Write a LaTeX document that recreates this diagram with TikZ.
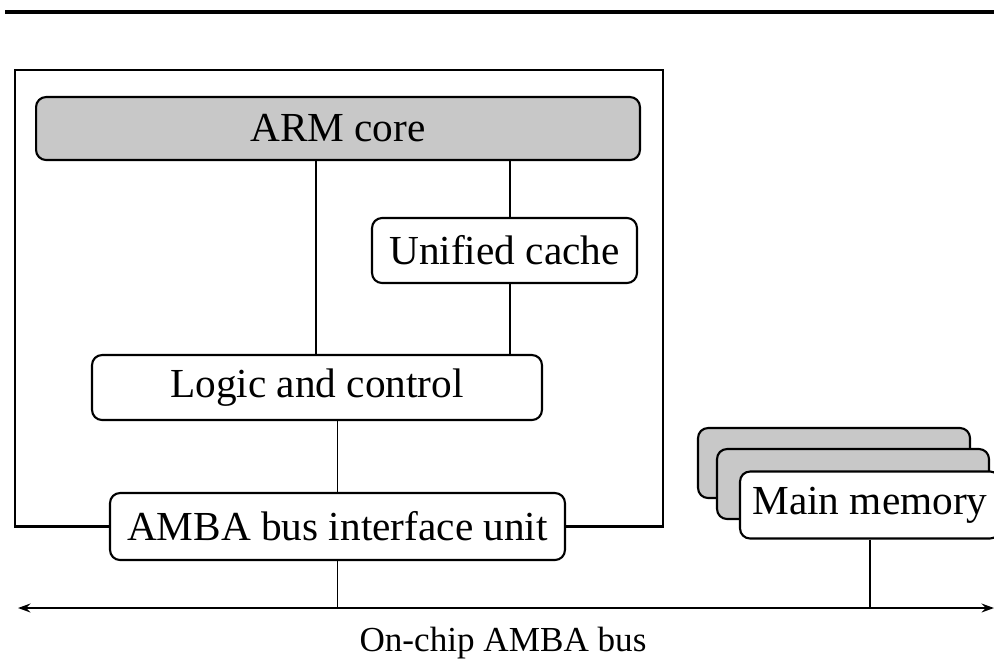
\documentclass[tikz,border=0pt]{standalone}
\usepackage{fontspec}
\setmainfont{Liberation Serif}
\usetikzlibrary{arrows.meta, positioning}
\definecolor{coregray}{RGB}{200,200,200}

\begin{document}
\begin{tikzpicture}[
        x=0.02cm, y=-0.02cm,
        block/.style={rectangle, draw=black, fill=white, line width=1.2pt, rounded corners=0.2cm, inner sep=0pt, align=center, font=\fontsize{23.5}{26}\selectfont},
        shadedblock/.style={block, fill=coregray},
        link/.style={line width=0.8pt},
        frame/.style={line width=1.2pt},
        busline/.style={line width=1.3pt, {Stealth[length=7pt,width=5pt]}-{Stealth[length=7pt,width=5pt]}}
    ]
        \clip (0,0) rectangle (994,664);

        % rule at the top
        \draw [line width=1.8pt] (5,12) -- (994,12);

        % processor blocks
        \node [shadedblock, minimum width=12.08cm, minimum height=1.26cm] (core) at (338,128.5) {ARM core};
        \node [block, minimum width=5.3cm, minimum height=1.3cm] (cache) at (504.5,250.5) {Unified cache};
        \node [block, minimum width=9cm, minimum height=1.3cm] (logic) at (317,387.5) {Logic and control};
        \node [block, minimum width=9.1cm, minimum height=1.34cm] (ambaif) at (337.5,526.5) {AMBA bus interface unit};

        % outline of the processor
        \draw [frame] (ambaif.west) -- (15,0 |- ambaif.west) -- (15,70) -- (663,70) -- (663,0 |- ambaif.east) -- (ambaif.east);

        % main memory stack
        \node [shadedblock, minimum width=5.44cm, minimum height=1.4cm] (mem3) at (834,463) {};
        \node [shadedblock, minimum width=5.44cm, minimum height=1.4cm] (mem2) at (853,484) {};
        \node [block, minimum width=5.2cm, minimum height=1.34cm] (mem1) at (870,505) {Main memory};

        % bus
        \coordinate (busL) at (18,608);
        \coordinate (busR) at (994,608);
        \draw [busline] (busL) -- (busR);
        \node [font=\fontsize{20}{23}\selectfont] (buslabel) at (503,643) {On-chip AMBA bus};

        % connections
        \draw [link] (316,0 |- core.south) -- (316,0 |- logic.north);
        \draw [link] (510,0 |- core.south) -- (510,0 |- cache.north);
        \draw [link] (510,0 |- cache.south) -- (510,0 |- logic.north);
        \draw [link] (ambaif.north |- logic.south) -- (ambaif.north);
        \draw [link] (ambaif.south) -- (ambaif.south |- busL);
        \draw [link] (mem1.south) -- (mem1.south |- busL);
    \end{tikzpicture}
\end{document}
